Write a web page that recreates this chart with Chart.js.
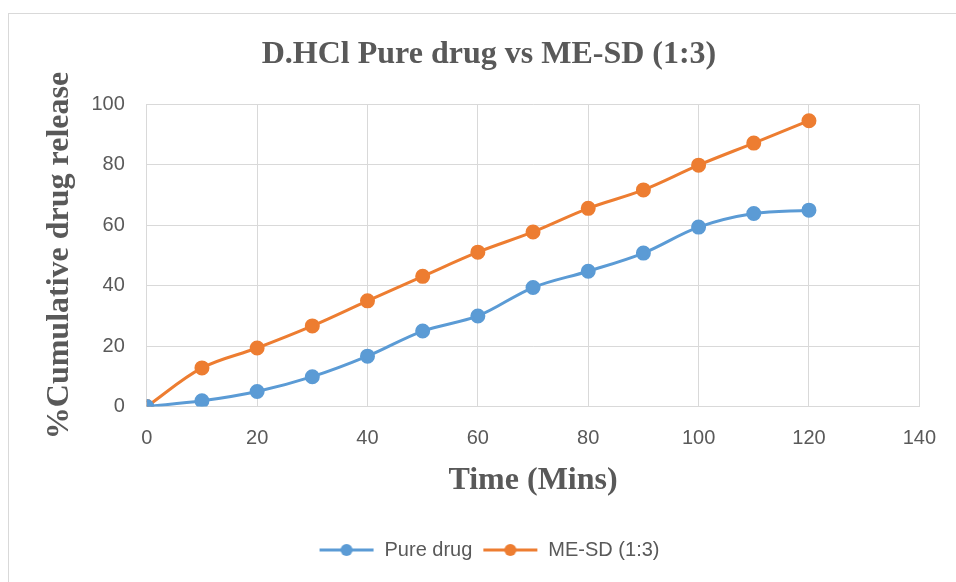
<!DOCTYPE html>
<html>
<head>
<meta charset="utf-8">
<script src="https://cdn.jsdelivr.net/npm/chart.js@4.4.1/dist/chart.umd.min.js"></script>
<style>
  html, body { margin: 0; padding: 0; background: #fff; overflow: hidden; }
  #frame { position: absolute; left: 8px; top: 13px; width: 1000px; height: 600px; border: 1px solid #d9d9d9; }
  #wrap { position: absolute; left: 0; top: 0; width: 956px; height: 582px; }
</style>
</head>
<body>
<div id="frame"></div>
<div id="wrap"><canvas id="myChart"></canvas></div>
<script>
const tiempos = [0, 10, 20, 30, 40, 50, 60, 70, 80, 90, 100, 110, 120];
const pureDrug = [0, 1.9, 5, 9.9, 16.7, 25, 30, 39.4, 44.8, 50.8, 59.4, 63.9, 65];
const meSd = [0, 12.8, 19.4, 26.7, 35, 43.1, 51.1, 57.8, 65.6, 71.7, 79.9, 87.2, 94.6];

const gris = '#595959';
const sansFont = "'Liberation Sans', Arial, sans-serif";
const serifFont = "'Liberation Serif', 'Times New Roman', serif";

function iconoLeyenda(color) {
    const c = document.createElement('canvas');
    c.width = 56;
    c.height = 14;
    const g = c.getContext('2d');
    g.strokeStyle = color;
    g.lineWidth = 3;
    g.beginPath();
    g.moveTo(1, 7);
    g.lineTo(55, 7);
    g.stroke();
    g.fillStyle = color;
    g.beginPath();
    g.arc(28, 7, 6, 0, Math.PI * 2);
    g.fill();
    return c;
}

function serie(label, valores, color) {
    return {
        label: label,
        data: tiempos.map((t, i) => ({ x: t, y: valores[i] })),
        borderColor: color,
        backgroundColor: color,
        borderWidth: 3,
        pointRadius: 6,
        pointHoverRadius: 6,
        tension: 0.35,
        fill: false,
        icono: iconoLeyenda(color)
    };
}

const ctx = document.getElementById('myChart').getContext('2d');
new Chart(ctx, {
    type: 'line',
    data: {
        datasets: [
            serie('Pure drug', pureDrug, '#5B9BD5'),
            serie('ME-SD (1:3)', meSd, '#ED7D31')
        ]
    },
    options: {
        responsive: true,
        maintainAspectRatio: false,
        animation: false,
        layout: {
            padding: { left: 58, right: 36, top: 0, bottom: 12 }
        },
        plugins: {
            title: {
                display: true,
                text: 'D.HCl Pure drug vs ME-SD (1:3)',
                color: gris,
                font: { family: serifFont, size: 32, weight: 'bold' },
                padding: { top: 36, bottom: 30 }
            },
            legend: {
                position: 'bottom',
                labels: {
                    color: gris,
                    font: { family: sansFont, size: 20 },
                    usePointStyle: true,
                    pointStyleWidth: 56,
                    padding: 10,
                    generateLabels: function(chart) {
                        const base = Chart.defaults.plugins.legend.labels.generateLabels(chart);
                        base.forEach(item => {
                            item.pointStyle = chart.data.datasets[item.datasetIndex].icono;
                        });
                        return base;
                    }
                }
            },
            tooltip: { enabled: false }
        },
        scales: {
            x: {
                type: 'linear',
                min: 0,
                max: 140,
                ticks: {
                    stepSize: 20,
                    color: gris,
                    padding: 20,
                    font: { family: sansFont, size: 20 }
                },
                grid: { color: '#d9d9d9', lineWidth: 1, drawTicks: false },
                border: { color: '#d9d9d9' },
                title: {
                    display: true,
                    text: 'Time (Mins)',
                    color: gris,
                    font: { family: serifFont, size: 32, weight: 'bold' },
                    padding: { top: -9, bottom: 30 }
                }
            },
            y: {
                min: 0,
                max: 100,
                ticks: {
                    stepSize: 20,
                    color: gris,
                    padding: 22,
                    font: { family: sansFont, size: 20 }
                },
                grid: { color: '#d9d9d9', lineWidth: 1, drawTicks: false },
                border: { color: '#d9d9d9' },
                title: {
                    display: true,
                    text: '%Cumulative drug release',
                    color: gris,
                    font: { family: serifFont, size: 32, weight: 'bold' },
                    padding: { top: -17, bottom: -10 }
                }
            }
        }
    }
});
</script>
</body>
</html>
